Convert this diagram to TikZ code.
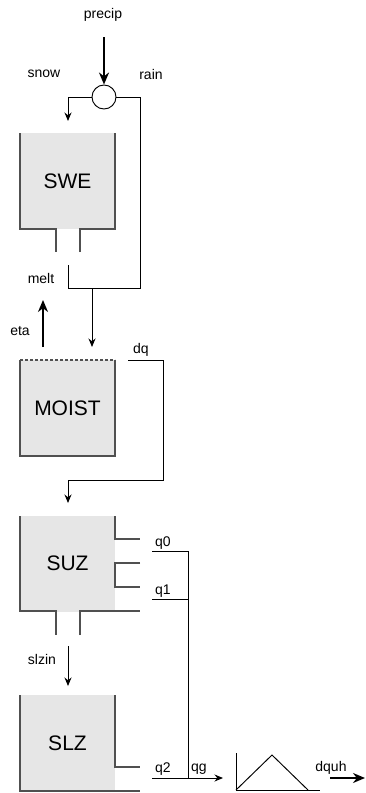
\documentclass[tikz,border=0pt]{standalone}
\usepackage{fontspec}
\setmainfont{Liberation Sans}
\usetikzlibrary{arrows.meta, calc}
\definecolor{TankGray}{HTML}{E6E6E6}
\definecolor{WallGray}{HTML}{505050}

\begin{document}
\begin{tikzpicture}[
        x=1pt, y=-1pt, >=Stealth, font=\fontsize{14}{14}\selectfont,
        tank/.style={fill=TankGray, minimum width=95pt, minimum height=96pt,
                     inner sep=0pt, font=\fontsize{21}{21}\selectfont},
        wall/.style={draw=WallGray, line width=1.3pt},
        pipe/.style={line width=0.95pt},
        flow/.style={-{Stealth[length=8.5pt, width=7pt]}, line width=0.95pt},
        bigflow/.style={-{Stealth[length=12pt, width=10pt]}, line width=2.4pt},
        lbl/.style={inner sep=0pt},
      ]
        \useasboundingbox (0,0) rectangle (365,793);
        % storages
        \node[tank] (swe)   at (67.5,181)   {SWE};
        \node[tank] (moist) at (67.5,408)   {MOIST};
        \node[tank] (suz)   at (67.5,563.5) {SUZ};
        \node[tank] (slz)   at (67.5,743)   {SLZ};
        \node[draw, circle, minimum size=24pt, inner sep=0pt, line width=0.95pt,
              fill=white] (split) at (104,97) {};
        % walls
        \draw[wall] (20,133) -- (20,229) -- (56,229) -- (56,252);
        \draw[wall] (80,252) -- (80,229) -- (115,229) -- (115,133);
        \draw[wall] (20,360) -- (20,456) -- (115,456) -- (115,360);
        \draw[wall, dashed, dash pattern=on 3pt off 2pt] (20,360) -- (115,360);
        \draw[wall] (20,516) -- (20,611) -- (56,611) -- (56,635);
        \draw[wall] (80,635) -- (80,611) -- (140,611);
        \draw[wall] (115,516) -- (115,539) -- (140,539);
        \draw[wall] (140,563) -- (115,563) -- (115,587) -- (140,587);
        \draw[wall] (20,695) -- (20,791) -- (140,791);
        \draw[wall] (115,695) -- (115,767) -- (140,767);
        % labels
        \node[lbl] (precip) at (103,15)  {precip};
        \node[lbl] (snow)   at (44,74)   {snow};
        \node[lbl] (rain)   at (151,74)  {rain};
        \node[lbl] (melt)   at (41,278)  {melt};
        \node[lbl] (eta)    at (20,331)  {eta};
        \node[lbl] (dq)     at (141,350) {dq};
        \node[lbl] (q0)     at (163,543) {q0};
        \node[lbl] (q1)     at (163,591) {q1};
        \node[lbl] (slzin)  at (42,659)  {slzin};
        \node[lbl] (q2)     at (163,769) {q2};
        \node[lbl] (qg)     at (199,769) {qg};
        \node[lbl] (dquh)   at (331,768) {dquh};
        % free ends
        \coordinate (pin)    at (104,37);
        \coordinate (swein)  at (68,121);
        \coordinate (rainc)  at (140,288);
        \coordinate (meltc)  at (68,288);
        \coordinate (melto)  at (68,265);
        \coordinate (infil)  at (92,288);
        \coordinate (moistin) at (92,347);
        \coordinate (etao)   at (43,347);
        \coordinate (etat)   at (43,300);
        \coordinate (dqo)    at (128,360);
        \coordinate (dqc)    at (163,480);
        \coordinate (suzin)  at (68,503);
        \coordinate (q0o)    at (152,551);
        \coordinate (q1o)    at (152,599);
        \coordinate (q2o)    at (152,778);
        \coordinate (qgc)    at (188,778);
        \coordinate (uhin)   at (223,778);
        \coordinate (slzo)   at (68,646);
        \coordinate (slzi)   at (68,686);
        \coordinate (uh)     at (236,790);
        \coordinate (uhtop)  at (272,755);
        \coordinate (uho)    at (330,778);
        \coordinate (outlet) at (365,778);
        % flows
        \draw[bigflow] (pin) -- (split.north);
        \draw[flow] (split.west) -| (swein);
        \draw[pipe] (split.east) -| (rainc) -- (meltc) -- (melto);
        \draw[flow] (infil) -- (moistin);
        \draw[bigflow] (etao) -- (etat);
        \draw[flow] (dqo) -| (dqc) -| (suzin);
        \draw[pipe] (q0o) -| (qgc);
        \draw[pipe] (q1o) -- (q1o -| qgc);
        \draw[pipe] (q2o) -- (qgc);
        \draw[flow] (qgc) -- (uhin);
        \draw[flow] (slzo) -- (slzi);
        % unit hydrograph
        \draw[pipe] (uh |- 0,753) -- (uh) -- (320,790);
        \draw[pipe] (uh) -- (uhtop) -- (308,790);
        \draw[bigflow, line width=2pt] (uho) -- (outlet);
      \end{tikzpicture}
\end{document}
